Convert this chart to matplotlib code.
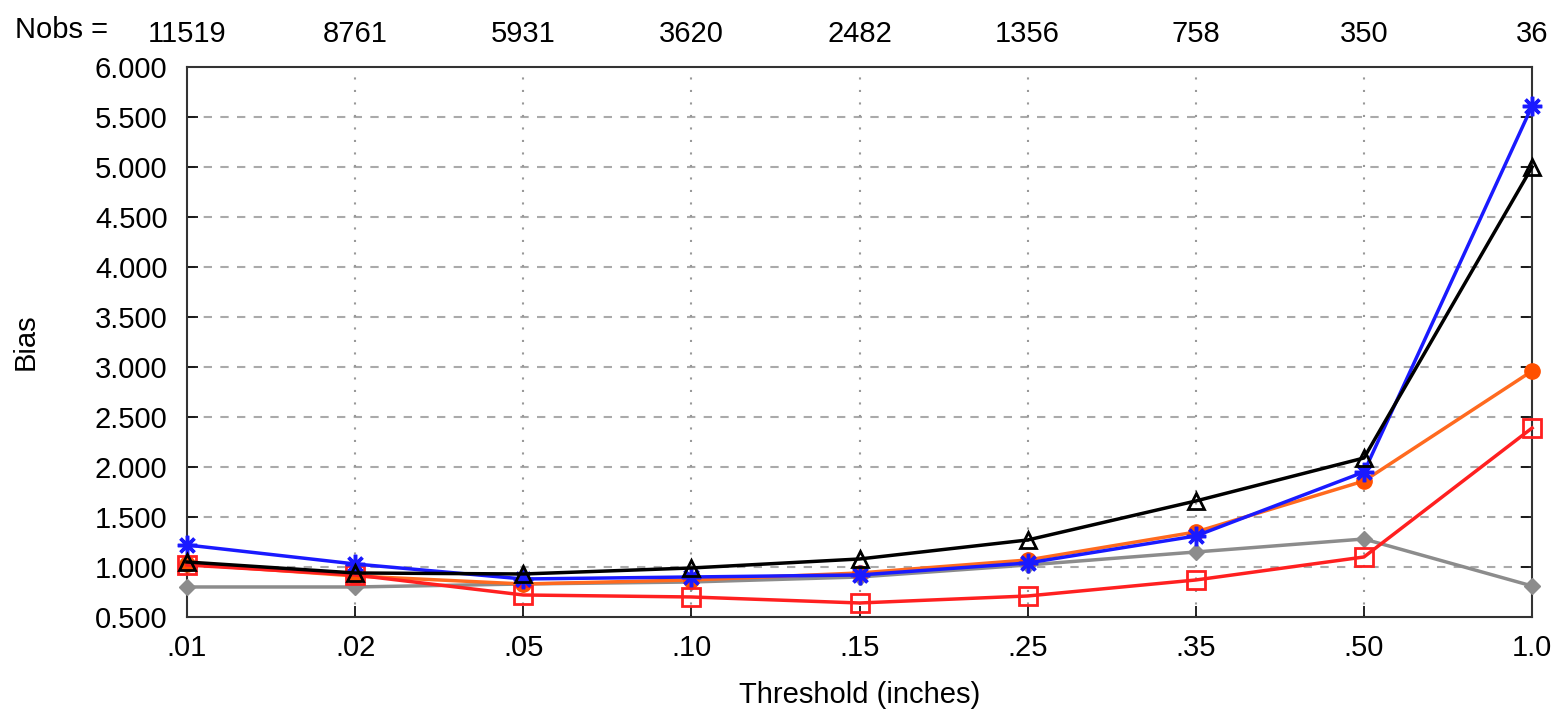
import numpy as np
from matplotlib import pyplot as plt

plt.rcParams['font.family'] = ['Liberation Sans', 'DejaVu Sans']

thresholds = ['.01', '.02', '.05', '.10', '.15', '.25', '.35', '.50', '1.0']
nobs = ['11519', '8761', '5931', '3620', '2482', '1356', '758', '350', '36']

# bias per threshold
bias_gray = [0.80, 0.80, 0.83, 0.85, 0.90, 1.02, 1.15, 1.28, 0.81]
bias_red = [1.02, 0.92, 0.72, 0.70, 0.64, 0.71, 0.87, 1.10, 2.39]
bias_orange = [1.03, 0.91, 0.83, 0.87, 0.94, 1.07, 1.35, 1.86, 2.96]
bias_blue = [1.22, 1.03, 0.88, 0.90, 0.92, 1.04, 1.31, 1.95, 5.61]
bias_black = [1.05, 0.94, 0.93, 0.99, 1.08, 1.27, 1.66, 2.09, 5.00]

x = np.arange(len(thresholds))
fs = 21

fig = plt.figure(figsize=(15.54, 7.16), dpi=100)
ax = fig.add_axes([0.1203, 0.1383, 0.8656, 0.7681])

ax.plot(x, bias_gray, color='#8c8c8c', lw=2.5, marker='D', ms=8, clip_on=False, zorder=3)
ax.plot(x, bias_orange, color='#ff6a1f', lw=2.5, marker='o', ms=11,
        mfc='#ff5000', mec='#ff5000', clip_on=False, zorder=4)
ax.plot(x, bias_red, color='#ff2020', lw=2.5, marker='s', ms=13, mfc='none',
        mew=2, clip_on=False, zorder=5)
ax.plot(x, bias_blue, color='#1a1aff', lw=2.5, marker=(8, 2, 0), ms=14, mew=2.5,
        clip_on=False, zorder=6)
ax.plot(x, bias_black, color='black', lw=2.5, marker='^', ms=12, mfc='none',
        mew=2, clip_on=False, zorder=7)

ax.set_xlim(0, 8)
ax.set_ylim(0.5, 6.0)
ax.set_xticks(x)
ax.set_xticklabels(thresholds)
yt = np.arange(0.5, 6.01, 0.5)
ax.set_yticks(yt)
ax.set_yticklabels(['%.3f' % v for v in yt])
ax.tick_params(direction='in', length=8, width=1.2, labelsize=fs, top=True, right=True, pad=12)
ax.tick_params(axis='y', pad=14)

for v in yt[1:-1]:
    ax.axhline(v, color='#aaaaaa', lw=1.5, ls=(0, (4, 4)), zorder=1)
for v in x[1:-1]:
    ax.axvline(v, color='#999999', lw=1.5, ls=(0, (1, 5)), zorder=1)

for s in ax.spines.values():
    s.set_color('#333333')
    s.set_linewidth(1.5)

ax.set_xlabel('Threshold (inches)', fontsize=fs, labelpad=14)
ax.set_ylabel('Bias', fontsize=fs, labelpad=40)

top = ax.twiny()
top.set_xlim(ax.get_xlim())
top.set_xticks(x)
top.set_xticklabels(nobs)
top.tick_params(length=0, labelsize=fs, pad=14)
top.spines[:].set_visible(False)

fig.text(15 / 1554, 1 - 30 / 716, 'Nobs =', fontsize=fs, va='center', ha='left')

fig.savefig('out.png', dpi=100)
